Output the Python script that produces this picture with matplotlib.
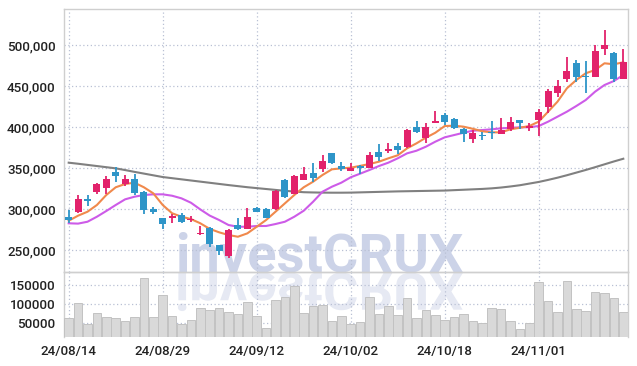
import matplotlib
matplotlib.use('Agg')
import matplotlib.pyplot as plt
import numpy as np
from matplotlib.textpath import TextPath
from matplotlib.patches import PathPatch
from matplotlib.font_manager import FontProperties
from matplotlib.transforms import Affine2D, IdentityTransform
from matplotlib.ticker import FuncFormatter, FixedLocator

# ---------------- data ----------------
date_labels = ["24/08/14", "24/08/29", "24/09/12", "24/10/02", "24/10/18", "24/11/01"]
date_label_idx = [0, 10, 20, 30, 40, 50]

opens = [290600, 296400, 312200, 321100, 325200, 345100, 330900, 336600, 320700, 299600,
         289000, 288700, 292300, 286200, 269200, 276800, 256100, 242700, 280500, 276000,
         301200, 300400, 299600, 335400, 318300, 335800, 344300, 349200, 368300, 352100,
         346700, 352800, 350400, 369500, 370700, 376800, 375200, 400000, 386900, 404500,
         414600, 409400, 397200, 385700, 389900, 393500, 391800, 397600, 408500, 398800,
         408500, 424800, 441800, 458900, 478400, 462200, 461300, 495500, 490600, 458900]
highs = [298800, 317100, 317100, 331300, 340200, 350900, 341100, 342700, 321500, 302800,
         289500, 293600, 294800, 291500, 279300, 277500, 256500, 275600, 288700, 301600,
         302000, 301000, 323200, 336000, 341500, 351600, 356100, 366200, 368800, 357000,
         356500, 353200, 369900, 378900, 380900, 380900, 397200, 406900, 404500, 419500,
         417400, 410600, 398400, 396000, 393500, 407700, 410600, 411800, 408800, 405200,
         422000, 446000, 457000, 485700, 481700, 480500, 500000, 518300, 491800, 494800]
lows = [282600, 295500, 303700, 317900, 317900, 332600, 327700, 317100, 293600, 293900,
        275200, 282900, 282900, 284100, 267900, 254000, 243900, 239900, 274400, 276000,
        296000, 289000, 298800, 313800, 318300, 335800, 332900, 345500, 354500, 346000,
        346000, 342700, 350400, 358500, 367900, 366700, 374000, 392300, 380100, 404500,
        402100, 397600, 381400, 380900, 384200, 385000, 391800, 395500, 397900, 394800,
        389400, 417400, 437000, 454500, 454500, 441100, 460600, 487800, 455200, 458900]
closes = [286600, 311800, 309800, 330500, 336600, 340600, 336200, 319500, 299100, 296400,
          282100, 291100, 284500, 287800, 270700, 257700, 249200, 274400, 276000, 290300,
          296700, 289400, 321900, 315000, 340200, 343100, 338200, 358500, 355700, 348400,
          350400, 350400, 365900, 363800, 373200, 372000, 396300, 393900, 400000, 407000,
          406500, 398400, 391500, 393000, 388700, 392300, 396300, 405700, 405200, 401200,
          417900, 444300, 450000, 468300, 461300, 461000, 492700, 500000, 458900, 479300]
volumes = [62000, 102000, 46000, 75500, 64800, 62000, 54000, 65000, 169600, 65000,
           124000, 67500, 46000, 56700, 89000, 83600, 89000, 78000, 72800, 105000,
           67500, 35000, 110000, 118500, 148000, 75500, 94000, 97000, 54000, 67500,
           46000, 51000, 120000, 73000, 94000, 70000, 115000, 62000, 83600, 70000,
           56700, 65000, 73000, 54000, 48700, 89000, 86000, 54000, 32500, 48700,
           159000, 108000, 78000, 161500, 86000, 81000, 132000, 129000, 115000, 78000]
ma_short = [285700, 291900, 296700, 304900, 317100, 326500, 330500, 332100, 326500, 319100,
            304900, 294800, 290600, 287800, 282600, 275800, 271600, 268300, 266200, 270300,
            278400, 286600, 296700, 306900, 317100, 326500, 333300, 341500, 348400, 349600,
            350400, 352600, 354900, 357700, 361800, 365500, 374000, 380100, 387000, 393000,
            401200, 401600, 400400, 397800, 394800, 393500, 393500, 397200, 399100, 401200,
            406500, 418700, 430900, 447200, 457300, 465500, 469500, 477700, 476500, 478900]
ma_mid = [282600, 282200, 284500, 290600, 297600, 304900, 311800, 315000, 317100, 317900,
          317900, 316200, 313000, 307700, 299500, 292000, 286600, 280500, 278400, 278400,
          279300, 279300, 281700, 284500, 290600, 297900, 308900, 321100, 327200, 332100,
          338700, 343100, 347600, 352400, 356500, 361800, 367900, 371100, 376000, 382100,
          387400, 390200, 393000, 395500, 396300, 397200, 398400, 399000, 399600, 399800,
          401200, 406500, 412600, 418700, 425600, 432900, 443100, 451200, 456100, 463400]
ma_long = [356500, 355200, 353800, 352400, 351000, 349600, 347500, 345300, 343200, 341100,
           339000, 337600, 336200, 334800, 333400, 332000, 330600, 329200, 327900, 326600,
           325500, 324400, 323300, 322200, 321300, 320500, 320200, 320000, 319900, 319900,
           320000, 320300, 320600, 320900, 321200, 321500, 321700, 321900, 322100, 322300,
           322500, 323000, 323500, 324000, 324500, 325200, 326200, 327500, 329000, 331000,
           333000, 335500, 338200, 341200, 344400, 347600, 351000, 354500, 358000, 361300]
price_ticks = [250000, 300000, 350000, 400000, 450000, 500000]
volume_ticks = [50000, 100000, 150000]
watermark = 'investCRUX'

# ---------------- style ----------------
UP = '#e2226b'
DOWN = '#2e95c8'
GRID = '#b9c0d4'
FRAME = '#cfcfcf'
TXT = '#222222'
tick_font = ['Roboto', 'DejaVu Sans']
TICK_SIZE = 9.6

W, H = 637, 366
fig = plt.figure(figsize=(W / 100, H / 100), dpi=100)
fig.patch.set_facecolor('white')


def rect(l, t, r, b):
    return [l / W, 1 - b / H, (r - l) / W, (b - t) / H]


ax = fig.add_axes(rect(64, 9, 628, 272))
axv = fig.add_axes(rect(64, 272, 628, 337), sharex=ax)
for a in (ax, axv):
    a.set_facecolor('none')
    for s in a.spines.values():
        s.set_color(FRAME)
        s.set_linewidth(1.0)
axv.spines['bottom'].set_visible(False)

x = np.arange(len(opens))
o = np.array(opens); c = np.array(closes)
h = np.array(highs); lo = np.array(lows)
cols = [UP if cc >= oo else DOWN for oo, cc in zip(o, c)]

# moving-average lines
ax.plot(x, ma_long, color='#808080', lw=1.5, zorder=2)
ax.plot(x, ma_mid, color='#cd5be8', lw=1.5, zorder=2)
ax.plot(x, ma_short, color='#f0894c', lw=1.5, zorder=2)

# candles
ax.vlines(x, lo, h, colors=cols, lw=1.3, zorder=3)
body_bottom = np.minimum(o, c)
body_h = np.maximum(np.abs(c - o), 1200)
ax.bar(x, body_h, bottom=body_bottom, width=0.74, color=cols, linewidth=0, zorder=4)

ax.set_xlim(-0.5, len(opens) - 0.5)
ax.set_ylim(223200, 543900)
ax.yaxis.set_major_locator(FixedLocator(price_ticks))
ax.yaxis.set_major_formatter(FuncFormatter(lambda v, p: f"{int(v):,}"))
ax.xaxis.set_major_locator(FixedLocator(date_label_idx))
ax.grid(True, color=GRID, linestyle=(0, (1, 2)), linewidth=0.9)
ax.tick_params(axis='x', labelbottom=False, length=0)
ax.tick_params(axis='y', length=0, pad=6, labelsize=TICK_SIZE, labelcolor=TXT)

# volume
axv.bar(x, volumes, width=0.92, color='#d9d9d9', edgecolor='#c2c2c2', linewidth=0.7, zorder=3)
axv.set_ylim(11000, 186000)
axv.yaxis.set_major_locator(FixedLocator(volume_ticks))
axv.yaxis.set_major_formatter(FuncFormatter(lambda v, p: f"{int(v)}"))
axv.set_xticks(date_label_idx)
axv.set_xticklabels(date_labels)
axv.grid(True, color=GRID, linestyle=(0, (1, 2)), linewidth=0.9)
axv.tick_params(axis='x', length=0, pad=6, labelsize=TICK_SIZE, labelcolor=TXT)
axv.tick_params(axis='y', length=0, pad=6, labelsize=TICK_SIZE, labelcolor=TXT)

for lab in ax.get_yticklabels() + axv.get_yticklabels() + axv.get_xticklabels():
    lab.set_family(tick_font)
    lab.set_fontweight('medium')

# watermark (behind the transparent axes)
fp = FontProperties(family=['Roboto', 'DejaVu Sans'], weight='bold')
tp = TextPath((0, 0), watermark, size=100, prop=fp)
bb = tp.get_extents()
target_w = 460 - 175
px_size = 100 * target_w / bb.width
fig.text(175 / W, (H - 271) / H, watermark, fontsize=px_size * 72 / 100,
         fontproperties=None, family=['Roboto', 'DejaVu Sans'], fontweight='bold',
         color='#ccd3e8', ha='left', va='baseline', zorder=-1)
# mirrored reflection (decorative)
sc = px_size / 100
tr2 = Affine2D().translate(-bb.x0, 0).scale(sc, -sc * 0.95).translate(175 + bb.x0 * sc, H - 273)
wm2 = PathPatch(tr2.transform_path(tp), facecolor='#e6e9f3', edgecolor='none',
                transform=IdentityTransform(), zorder=-1)
fig.add_artist(wm2)

fig.savefig('out.png', dpi=100)
